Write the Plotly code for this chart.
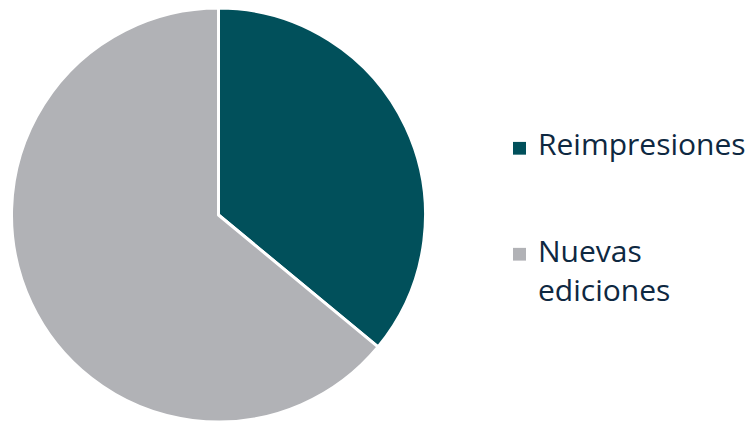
import plotly.graph_objects as go

labels = ["Reimpresiones", "Nuevas ediciones"]
legend_text = ["Reimpresiones", "Nuevas<br>ediciones"]
values = [36, 64]
colors = ["#01505B", "#B1B2B6"]
text_color = "#0E2841"

fig = go.Figure(go.Pie(
    labels=labels,
    values=values,
    sort=False,
    direction="clockwise",
    rotation=0,
    textinfo="none",
    marker=dict(colors=colors, line=dict(color="white", width=3)),
    domain=dict(x=[10.5 / 755, 426.5 / 755], y=[0, 1]),
    showlegend=False,
))

W, H = 755, 422
sq_x0 = 513
sq_size = 13
text_x = 536
item_centers = [143, 251]
text_offsets = [28, 27]

shapes = []
annotations = []
for i, (txt, col) in enumerate(zip(legend_text, colors)):
    cy = item_centers[i]
    shapes.append(dict(
        type="rect", xref="paper", yref="paper",
        x0=sq_x0 / W, x1=(sq_x0 + sq_size) / W,
        y0=1 - (cy + sq_size / 2) / H, y1=1 - (cy - sq_size / 2) / H,
        fillcolor=col, line=dict(width=0),
    ))
    annotations.append(dict(
        text=txt, xref="paper", yref="paper",
        x=text_x / W, y=1 - (cy - text_offsets[i]) / H,
        xanchor="left", yanchor="top", align="left",
        showarrow=False,
        font=dict(family="Open Sans", size=30, color=text_color),
    ))

fig.update_layout(
    width=W, height=H,
    margin=dict(l=0, r=0, t=8, b=0),
    paper_bgcolor="white",
    plot_bgcolor="white",
    shapes=shapes,
    annotations=annotations,
)

fig.write_html("out.html", config={"displayModeBar": False},
               post_script="document.body.style.margin='0';")
